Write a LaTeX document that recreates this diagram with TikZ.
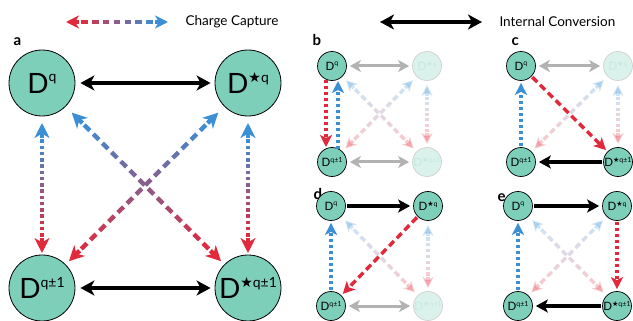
\documentclass[tikz,border=0pt]{standalone}
\usepackage{fontspec}
\setmainfont{Lato}
\newfontfamily\symf{DejaVu Sans}
\usetikzlibrary{arrows.meta,calc}

\definecolor{ccteal}{HTML}{7ECFBA}
\definecolor{ccred}{HTML}{E1293B}
\definecolor{ccblue}{HTML}{3A8FD5}

\newcommand\bigD[1]{{\fontsize{28}{28}\selectfont D\raisebox{.40em}{\fontsize{14}{14}\selectfont #1}}}
\newcommand\smD[1]{{\fontsize{11.5}{11.5}\selectfont D\raisebox{.40em}{\fontsize{7}{7}\selectfont #1}}}
\newcommand\dstar{{\symf ★}}

% dashed line going from blue (#1) to red (#2), one colour per dash
\newcommand\ccgrad[6]{%
  \coordinate (gs) at ($(#1)!#3!(#2)$);
  \coordinate (ge) at ($(#2)!#3!(#1)$);
  \foreach \i in {1,...,#4}{
    \pgfmathsetmacro\ta{(\i-1+(1-#5)/2)/#4}
    \pgfmathsetmacro\tb{(\i-(1-#5)/2)/#4}
    \pgfmathtruncatemacro\pc{100*(\i-0.5)/#4}
    \draw[#6,draw=ccred!\pc!ccblue] ($(gs)!\ta!(ge)$) -- ($(gs)!\tb!(ge)$);
  }
  \draw[#6,ccblue,-{Stealth[length=#3,width=#3,inset=.3*#3]}] (gs) -- (#1);
  \draw[#6,ccred,-{Stealth[length=#3,width=#3,inset=.3*#3]}] (ge) -- (#2);
}
% faded capture arrows of the small panels
\newcommand\fadevert[2]{%
  \coordinate (ft) at ($(#1)!19pt!(#2)$);
  \coordinate (fb) at ($(#2)!18pt!(#1)$);
  \ccgrad{ft}{fb}{11pt}{7}{.55}{line width=3.4pt,opacity=.25}}
\newcommand\fadediag[2]{%
  \coordinate (ft) at ($(#1)!20pt!(#2)$);
  \coordinate (fb) at ($(#2)!19pt!(#1)$);
  \ccgrad{ft}{fb}{11pt}{8}{.62}{line width=3.4pt,opacity=.25}}

\begin{document}
\begin{tikzpicture}[x=1pt,y=-1pt,
  big/.style={circle,draw,line width=.8pt,fill=ccteal,minimum size=66pt,inner sep=0pt},
  sm/.style={circle,draw,line width=.7pt,fill=ccteal,minimum size=29pt,inner sep=0pt},
  faded/.style={sm,draw=black!18,fill=ccteal!28,text=ccteal!45},
  lbl/.style={anchor=base west,font=\fontsize{15}{15}\selectfont\bfseries},
  legend/.style={anchor=west,font=\fontsize{13.5}{13.5}\selectfont},
  blkbig/.style={line width=3.6pt,{Stealth[length=14pt,width=15pt,inset=4pt]}-{Stealth[length=14pt,width=15pt,inset=4pt]},shorten <=5pt,shorten >=4pt},
  blksm/.style={line width=3.4pt,-{Stealth[length=12pt,width=13pt,inset=3pt]},shorten <=1pt,shorten >=3pt},
  greysm/.style={line width=3pt,black!30,{Stealth[length=11pt,width=12pt,inset=3pt]}-{Stealth[length=11pt,width=12pt,inset=3pt]},shorten <=3pt,shorten >=3pt},
  dotsm/.style={line width=3.4pt,dash pattern=on 3.4pt off 2.6pt,-{Stealth[length=12pt,width=12pt,inset=3pt]}},
  dashsm/.style={line width=3.4pt,dash pattern=on 7pt off 4pt,-{Stealth[length=12pt,width=12pt,inset=3pt]},shorten <=1pt,shorten >=2pt}]
\useasboundingbox (0,0) rectangle (633,321);

% legend
\coordinate (lgl) at (66,22);
\coordinate (lgr) at (168,22);
\ccgrad{lgr}{lgl}{13pt}{7}{.6}{line width=3.6pt}
\node[legend](cclab) at (182,22){Charge Capture};
\coordinate (icl) at (380,22);
\coordinate (icr) at (482,22);
\draw[blkbig,line width=3.2pt,shorten <=0pt,shorten >=0pt] (icl) -- (icr);
\node[legend](iclab) at (496,22){Internal Conversion};

% a
\node[lbl](la) at (10,46){a};
\node[big](aq) at (42,83){\bigD{q}};
\node[big](asq) at (248,83){\bigD{\dstar q}};
\node[big](aqp) at (42,288){\bigD{q±1}};
\node[big](asqp) at (248,288){\bigD{\dstar q±1}};
\draw[blkbig] (aq) -- (asq);
\draw[blkbig] (aqp) -- (asqp);
\coordinate (a1t) at ($(aq)!40pt!(aqp)$);
\coordinate (a1b) at ($(aqp)!35pt!(aq)$);
\ccgrad{a1t}{a1b}{15pt}{16}{.55}{line width=4.4pt}
\coordinate (a2t) at ($(asq)!40pt!(asqp)$);
\coordinate (a2b) at ($(asqp)!35pt!(asq)$);
\ccgrad{a2t}{a2b}{15pt}{16}{.55}{line width=4.4pt}
\coordinate (a3t) at ($(asq)!42pt!(aqp)$);
\coordinate (a3b) at ($(aqp)!38pt!(asq)$);
\ccgrad{a3t}{a3b}{15pt}{14}{.62}{line width=4.4pt}
\coordinate (a4t) at ($(aq)!42pt!(asqp)$);
\coordinate (a4b) at ($(asqp)!38pt!(aq)$);
\ccgrad{a4t}{a4b}{15pt}{14}{.62}{line width=4.4pt}

% b
\node[lbl](lb) at (309,46){b};
\node[sm](bq) at (332,66){\smD{q}};
\node[faded](bsq) at (427,66){\smD{\dstar q}};
\node[sm](bqp) at (332,162){\smD{q±1}};
\node[faded](bsqp) at (427,162){\smD{\dstar q±1}};
\draw[greysm] (bq) -- (bsq);
\draw[greysm] (bqp) -- (bsqp);
\fadevert{bsq}{bsqp}
\fadediag{bq}{bsqp}
\fadediag{bsq}{bqp}
\draw[dotsm,ccred] ($(bq)+(-6,14)$) -- ($(bqp)+(-6,-15)$);
\draw[dotsm,ccblue] ($(bqp)+(6,-13)$) -- ($(bq)+(6,15)$);

% c
\node[lbl](lc) at (508,46){c};
\node[sm](cq) at (521,66){\smD{q}};
\node[faded](csq) at (618,66){\smD{\dstar q}};
\node[sm](cqp) at (521,162){\smD{q±1}};
\node[sm](csqp) at (618,162){\smD{\dstar q±1}};
\draw[greysm] (cq) -- (csq);
\fadevert{csq}{csqp}
\fadediag{csq}{cqp}
\draw[dashsm,ccred] (cq) -- (csqp);
\draw[blksm] (csqp) -- (cqp);
\draw[dotsm,ccblue,shorten <=1pt,shorten >=2pt] (cqp) -- (cq);

% d
\node[lbl](ld) at (310,200){d};
\node[sm](dq) at (331,206){\smD{q}};
\node[sm](dsq) at (428,206){\smD{\dstar q}};
\node[sm](dqp) at (331,306){\smD{q±1}};
\node[faded](dsqp) at (428,306){\smD{\dstar q±1}};
\draw[greysm] (dqp) -- (dsqp);
\fadevert{dsq}{dsqp}
\fadediag{dq}{dsqp}
\draw[blksm] (dq) -- (dsq);
\draw[dashsm,ccred] (dsq) -- (dqp);
\draw[dotsm,ccblue,shorten <=1pt,shorten >=2pt] (dqp) -- (dq);

% e
\node[lbl](le) at (494,201){e};
\node[sm](eq) at (518,206){\smD{q}};
\node[sm](esq) at (617,206){\smD{\dstar q}};
\node[sm](eqp) at (518,306){\smD{q±1}};
\node[sm](esqp) at (617,306){\smD{\dstar q±1}};
\fadediag{eq}{esqp}
\fadediag{esq}{eqp}
\draw[blksm] (eq) -- (esq);
\draw[dotsm,ccred,shorten <=1pt,shorten >=2pt] (esq) -- (esqp);
\draw[blksm] (esqp) -- (eqp);
\draw[dotsm,ccblue,shorten <=1pt,shorten >=2pt] (eqp) -- (eq);
\end{tikzpicture}
\end{document}
